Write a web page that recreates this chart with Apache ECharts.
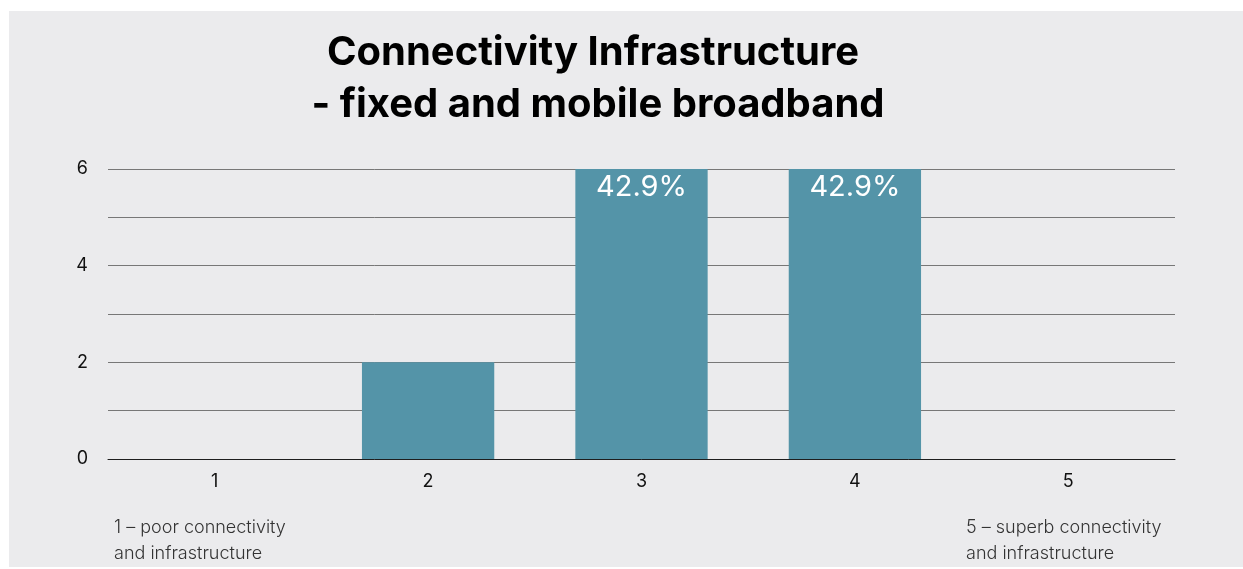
<!DOCTYPE html>
<html>
<head>
<meta charset="utf-8">
<script src="https://cdn.jsdelivr.net/npm/echarts@6/dist/echarts.min.js"></script>
<style>
  html, body { margin: 0; padding: 0; background: #ffffff; }
  #chart { width: 1243px; height: 569px; }
</style>
</head>
<body>
<div id="chart"></div>
<script>
// Survey rating scale and number of responses per rating
const categories = ['1', '2', '3', '4', '5'];
const responses = [0, 2, 6, 6, 0];
// Percentage labels shown on the bars
const barLabels = ['', '', '42.9%', '42.9%', ''];
const titleLines = ['Connectivity Infrastructure', '- fixed and mobile broadband'];
const scaleNotes = {
  low: ['1 – poor connectivity', 'and infrastructure'],
  high: ['5 – superb connectivity', 'and infrastructure']
};

const FONT = 'Inter, "Noto Sans", sans-serif';
const chart = echarts.init(document.getElementById('chart'));

chart.setOption({
  backgroundColor: '#ffffff',
  animation: false,
  graphic: [
    {
      type: 'rect', z: -10, silent: true,
      shape: { x: 9, y: 11, width: 1234, height: 556 },
      style: { fill: '#ebebed' }
    },
    {
      type: 'text', x: 593, y: 53,
      style: {
        text: titleLines[0],
        font: '700 40px ' + FONT, fill: '#000000',
        align: 'center', verticalAlign: 'middle'
      }
    },
    {
      type: 'text', x: 598, y: 105,
      style: {
        text: titleLines[1],
        font: '700 40px ' + FONT, fill: '#000000',
        align: 'center', verticalAlign: 'middle'
      }
    },
    {
      type: 'text', left: 114, top: 515,
      style: {
        text: scaleNotes.low.join('\n'),
        font: '300 18px ' + FONT, fill: '#333333', lineHeight: 26
      }
    },
    {
      type: 'text', left: 966, top: 515,
      style: {
        text: scaleNotes.high.join('\n'),
        font: '300 18px ' + FONT, fill: '#333333', lineHeight: 26
      }
    }
  ],
  grid: { left: 108, right: 68, top: 169, bottom: 110, containLabel: false },
  xAxis: {
    type: 'category',
    data: categories,
    axisLine: { show: true, lineStyle: { color: '#1e1e1e', width: 1 } },
    axisTick: { show: false },
    axisLabel: { color: '#111111', fontFamily: FONT, fontSize: 18, margin: 14 }
  },
  yAxis: {
    type: 'value',
    min: 0, max: 6, interval: 1,
    axisLine: { show: false },
    axisTick: { show: false },
    axisLabel: {
      color: '#111111', fontFamily: FONT, fontSize: 18, margin: 20,
      formatter: v => (v % 2 === 0 ? String(v) : '')
    },
    splitLine: { lineStyle: { color: '#777777', width: 1 } }
  },
  series: [{
    type: 'bar',
    data: responses,
    barWidth: '62%',
    itemStyle: { color: '#5494a8' },
    label: {
      show: true,
      position: 'insideTop',
      distance: 4,
      color: '#ffffff',
      fontFamily: FONT,
      fontSize: 29,
      formatter: p => barLabels[p.dataIndex]
    }
  }]
});
</script>
</body>
</html>
